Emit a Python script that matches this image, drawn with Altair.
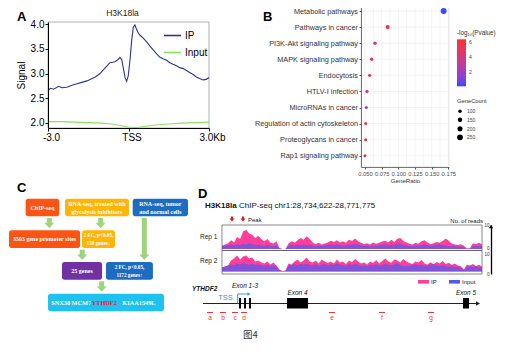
import json
import altair as alt
import numpy as np
import pandas as pd

W, H = 506, 343
SANS = "Liberation Sans"
SERIF = "Liberation Serif"
CJK = "Noto Sans CJK SC"

# ================= Panel A : H3K18la signal around TSS =================
a_pos = [-3.0, -2.91, -2.79, -2.6, -2.48, -2.3, -2.11, -1.92, -1.74, -1.55, -1.43, -1.24, -1.06,
         -0.93, -0.81, -0.69, -0.5, -0.38, -0.32, -0.25, -0.19, -0.13, -0.07, -0.01, 0.06, 0.12,
         0.18, 0.24, 0.3, 0.37, 0.43, 0.55, 0.67, 0.8, 0.92, 1.05, 1.17, 1.29, 1.42, 1.54, 1.66,
         1.79, 1.91, 2.04, 2.16, 2.28, 2.41, 2.53, 2.65, 2.78, 2.9, 3.0]
a_ip = [2.65, 2.70, 2.68, 2.74, 2.71, 2.72, 2.76, 2.79, 2.82, 2.85, 2.88, 2.93, 3.00, 3.08, 3.15,
        3.22, 3.24, 3.29, 3.33, 3.28, 3.10, 2.92, 2.84, 2.95, 3.30, 3.68, 3.95, 3.99, 3.90, 3.82,
        3.78, 3.72, 3.65, 3.56, 3.48, 3.40, 3.33, 3.30, 3.27, 3.22, 3.19, 3.16, 3.12, 3.10, 3.06,
        3.02, 2.98, 2.93, 2.90, 2.87, 2.88, 2.92]
a_input_pos = [-3.0, -2.5, -2.0, -1.5, -1.0, -0.6, -0.3, 0.0, 0.3, 0.6, 1.0, 1.5, 2.0, 2.5, 3.0]
a_input = [2.02, 2.02, 2.01, 2.00, 1.99, 1.97, 1.94, 1.91, 1.90, 1.92, 1.95, 1.97, 1.99, 2.00, 2.01]
a_tracks = ["IP", "Input"]
a_ticks = [-3, 0, 3]
a_tick_text = ["-3.0", "TSS", "3.0Kb"]
a_y_ticks = [2.0, 2.5, 3.0, 3.5, 4.0]
A_XDOM = [-3, 3]
A_YDOM = [1.89, 4.05]

# ================= Panel B : KEGG enrichment =================
b_terms = ["Metabolic pathways", "Pathways in cancer", "PI3K-Akt signaling pathway",
           "MAPK signaling pathway", "Endocytosis", "HTLV-I infection", "MicroRNAs in cancer",
           "Regulation of actin cytoskeleton", "Proteoglycans in cancer", "Rap1 signaling pathway"]
b_ratio = [0.168, 0.084, 0.065, 0.060, 0.057, 0.053, 0.052, 0.051, 0.051, 0.050]
b_count = [268, 134, 104, 96, 91, 85, 83, 81, 81, 80]
b_logp = [0.1, 6.3, 3.1, 5.5, 5.1, 3.7, 2.7, 5.9, 5.9, 4.8]
b_x_ticks = [0.05, 0.075, 0.1, 0.125, 0.15, 0.175]
b_p_ticks = [2, 4, 6]
b_n_ticks = [100, 150, 200, 250]
B_XDOM = [0.044, 0.176]
B_YDOM = [0.5, 10.7]

# ================= Panel C : screening flow chart =================
c_text = ["ChIP-seq", "RNA-seq, treated with\nglycolysis inhibitors", "RNA-seq, tumor\nand normal cells",
          "3505 gene promoter sites", "2 FC, p<0.05,\n150 genes\u2193", "25 genes",
          "2 FC, p<0.05,\n1172 genes\u2191", ""]
c_kind = ["chip", "glyco", "tumor", "chip", "glyco", "merge", "tumor", "final"]
c_genes = ["SNX30", "MCM7", "YTHDF2", "KIAA1549L"]
c_highlight = "YTHDF2"
# flow-chart layout (columns in 0-100 units, rows 0-3)
c_x0 = [9.3, 31.3, 69.1, 0.0, 40.8, 29.6, 54.2, 21.8]
c_x1 = [28.1, 67.0, 100.0, 39.7, 59.2, 52.0, 80.4, 86.6]
c_row = [0, 0, 0, 1, 1, 2, 2, 3]
c_gene_x = [28.9, 40.4, 53.2, 72.6]
c_arrow_x = [22.5, 51.2, 75.6, 40.9, 51.8]
c_arrow_from = [0, 0, 0, 1, 2]
c_arrow_to = [1, 1, 2, 2, 3]
c_kinds = ["chip", "glyco", "tumor", "merge", "final"]
c_colors = ["#fd5414", "#ffb505", "#1c6cc0", "#7131a1", "#1ec2ef"]

# ================= Panel D : ChIP-seq tracks at YTHDF2 =================
D_START, D_END = 28734622, 28771775
rep1_ip = [1.5, 2.0, 2.5, 4.0, 3.0, 5.5, 4.5, 8.0, 8.7, 7.0,
           6.5, 5.0, 6.0, 4.5, 3.5, 4.5, 3.0, 2.5, 3.5, 0.5,
           0.0, 0.0, 2.5, 3.5, 2.8, 4.0, 5.0, 4.2, 5.8, 4.5,
           3.0, 2.2, 2.8, 2.0, 2.5, 3.0, 3.8, 3.2, 4.0, 3.0,
           3.5, 2.8, 4.2, 3.6, 4.8, 3.5, 2.8, 2.2, 2.6, 2.0,
           3.0, 2.4, 2.8, 3.4, 3.8, 3.0, 4.2, 3.2, 4.6, 5.0,
           3.6, 3.0, 2.4, 2.0, 2.8, 2.4, 3.5, 4.0, 3.0, 2.2,
           2.6, 3.2, 2.8, 3.6, 4.8, 3.8, 2.5, 2.0, 1.8, 2.2,
           1.5, 0.2, 0.3, 2.6, 2.2, 2.8, 2.0]
rep1_input = [1.2, 1.5, 1.8, 2.0, 1.6, 2.2, 1.8, 2.4, 2.0, 2.6,
              2.2, 1.8, 2.0, 1.6, 1.4, 1.8, 1.5, 1.2, 1.6, 0.3,
              0.0, 0.0, 1.4, 1.8, 1.6, 2.0, 1.8, 2.2, 1.6, 1.9,
              1.5, 1.3, 1.7, 1.4, 1.6, 1.8, 2.0, 1.6, 2.2, 1.8,
              1.5, 1.7, 2.0, 1.8, 2.4, 1.9, 1.6, 1.4, 1.5, 1.2,
              1.6, 1.4, 1.7, 1.9, 2.0, 1.7, 2.1, 1.8, 2.2, 2.4,
              1.9, 1.6, 1.4, 1.3, 1.6, 1.4, 1.8, 2.0, 1.7, 1.5,
              1.6, 1.9, 2.2, 1.8, 1.5, 1.3, 1.2, 1.4, 1.1, 1.0,
              0.8, 0.1, 0.2, 1.2, 1.5, 1.3, 1.2]
rep2_ip = [2.0, 2.5, 3.0, 5.5, 6.5, 8.0, 6.0, 7.5, 8.0, 6.5,
           7.0, 5.0, 5.5, 4.5, 4.0, 5.0, 3.5, 4.5, 3.0, 1.0,
           0.2, 0.5, 4.0, 3.5, 5.0, 6.0, 4.5, 5.5, 7.0, 5.0,
           4.5, 5.5, 4.0, 6.0, 5.0, 4.2, 5.0, 4.0, 6.0, 4.5,
           5.0, 3.8, 5.5, 4.6, 6.2, 5.0, 4.0, 4.5, 3.5, 5.0,
           4.2, 5.8, 4.0, 5.2, 6.5, 5.0, 4.4, 6.0, 5.5, 4.5,
           6.2, 5.0, 4.2, 3.8, 5.0, 4.5, 5.8, 4.0, 3.5, 4.6,
           3.6, 4.8, 4.0, 5.2, 3.8, 4.4, 3.2, 4.0, 3.0, 2.6,
           1.0, 3.4, 3.0, 3.8, 2.8, 3.4, 2.5]
rep2_input = [2.0, 2.5, 3.0, 3.5, 3.0, 4.0, 3.5, 4.2, 3.8, 3.4,
              4.0, 3.2, 3.6, 3.0, 2.8, 3.4, 2.6, 3.0, 2.4, 0.5,
              0.2, 0.3, 2.8, 3.2, 3.6, 3.0, 3.8, 3.4, 4.0, 3.2,
              3.0, 3.6, 2.8, 3.4, 3.8, 3.0, 3.6, 3.2, 4.0, 3.4,
              3.0, 2.8, 3.6, 3.2, 3.8, 3.4, 2.8, 3.0, 2.6, 3.4,
              3.0, 3.6, 2.8, 3.2, 3.8, 3.4, 3.0, 3.6, 4.0, 3.2,
              2.8, 3.0, 2.6, 3.2, 3.6, 3.0, 3.4, 2.8, 3.0, 3.4,
              3.8, 3.0, 2.6, 3.2, 2.8, 2.4, 2.8, 2.2, 2.4, 2.0,
              0.6, 2.4, 2.8, 2.2, 2.6, 2.0, 1.8]
d_series = ["IP", "Input"]
d_read_ticks = [0, 10]
peaks = [28736051, 28737623]
exon_start = [28737054, 28737769, 28738483, 28743911, 28769061]
exon_end = [28737334, 28738049, 28738763, 28746911, 28769918]
exon_group = [0, 0, 0, 1, 2]
exon_names = ["Exon 1-3", "Exon 4", "Exon 5"]
gene_span = [28731907, 28771204]
tss = 28736870
tss_arrow_end = 28738480
primers = ["a", "b", "c", "d", "e", "f", "g"]
primer_pos = [28732907, 28734765, 28736480, 28737766, 28750341, 28757486, 28764488]

PINK, BLUE = "#ff3d9a", "#4f5bf0"
GREEN = "#9fd47f"
RED = "#ee3338"


def note(txt, x, y, **mark):
    return alt.Chart(pd.DataFrame({"t": [txt]})).mark_text(**mark).encode(
        x=alt.value(x), y=alt.value(y), text="t:N")


one = pd.DataFrame({"k": [0]})
layers = []

# ---------------- A ----------------
A_X = alt.Scale(domain=A_XDOM, range=[40, 201], nice=False, zero=False)
A_Y = alt.Scale(domain=A_YDOM, range=[120, 14], nice=False, zero=False)
a_df = pd.concat([
    pd.DataFrame({"pos": a_pos, "signal": a_ip, "track": a_tracks[0]}),
    pd.DataFrame({"pos": a_input_pos, "signal": a_input, "track": a_tracks[1]}),
])
a_label_expr = "".join(f"datum.value == {v} ? '{t}' : " for v, t in zip(a_ticks, a_tick_text)) + "''"

layers.append(alt.Chart(one).mark_rect(fillOpacity=0, stroke="#9c9c9c", strokeWidth=0.8).encode(
    x=alt.XDatum(A_XDOM[0], scale=A_X, axis=None), x2=alt.X2Datum(A_XDOM[1]),
    y=alt.YDatum(A_YDOM[0], scale=A_Y, axis=None), y2=alt.Y2Datum(A_YDOM[1])))
layers.append(alt.Chart(a_df).mark_line(strokeWidth=1.1).encode(
    x=alt.X("pos:Q", scale=A_X, axis=alt.Axis(
        orient="bottom", offset=120 - H, values=a_ticks, labelExpr=a_label_expr, title=None,
        grid=False, tickSize=3, tickColor="#000", domainColor="#000", labelColor="#000",
        labelFontSize=10, labelPadding=1, labelFlush=False, labelOffset=3, zindex=2)),
    y=alt.Y("signal:Q", scale=A_Y, axis=alt.Axis(
        orient="left", offset=-40, values=a_y_ticks, format=".1f", title="Signal",
        titleFontSize=10, titleFontWeight="normal", titleColor="#000", titlePadding=4,
        grid=False, tickSize=3, tickColor="#000", domainColor="#000", labelColor="#000",
        labelFontSize=10, labelPadding=1, zindex=2)),
    color=alt.Color("track:N", scale=alt.Scale(domain=a_tracks, range=["#2d3494", "#8be05d"]),
                    legend=alt.Legend(orient="none", legendX=155, legendY=18, title=None,
                                      symbolType="stroke", symbolSize=289, symbolStrokeWidth=1.6,
                                      labelFontSize=10, labelOffset=3, rowPadding=2,
                                      labelColor="#000")),
    order="pos:Q"))
layers.append(note("H3K18la", 114.5, 5, fontSize=8.5, color="#222"))
layers.append(note("A", 9, 12.5, fontSize=13, fontWeight="bold", align="left",
                   baseline="alphabetic", color="#000"))

# ---------------- B ----------------
B_X = alt.Scale(domain=B_XDOM, range=[353, 441], nice=False, zero=False)
B_Y = alt.Scale(domain=B_YDOM, range=[-5, 159], nice=False, zero=False)
b_df = pd.DataFrame({"term": b_terms, "rank": list(range(1, len(b_terms) + 1)),
                     "ratio": b_ratio, "count": b_count, "logp": b_logp})
b_grid = sorted(b_x_ticks + [(a + b) / 2 for a, b in zip(b_x_ticks[:-1], b_x_ticks[1:])])
b_label_expr = json.dumps(b_terms) + "[datum.value - 1]"

layers.append(alt.Chart(pd.DataFrame({"g": b_grid})).mark_rule(color="#ebebeb", strokeWidth=0.6).encode(
    x=alt.X("g:Q", scale=B_X, axis=None),
    y=alt.YDatum(B_YDOM[0], scale=B_Y, axis=None), y2=alt.Y2Datum(B_YDOM[1])))
layers.append(alt.Chart(b_df).mark_rule(color="#ebebeb", strokeWidth=0.6).encode(
    y=alt.Y("rank:Q", scale=B_Y, axis=None),
    x=alt.XDatum(B_XDOM[0], scale=B_X, axis=None), x2=alt.X2Datum(B_XDOM[1])))
layers.append(alt.Chart(one).mark_rect(fillOpacity=0, stroke="#dcdcdc", strokeWidth=0.8).encode(
    x=alt.XDatum(B_XDOM[0], scale=B_X, axis=None), x2=alt.X2Datum(B_XDOM[1]),
    y=alt.YDatum(B_YDOM[0], scale=B_Y, axis=None), y2=alt.Y2Datum(B_YDOM[1])))
layers.append(alt.Chart(b_df).mark_circle(opacity=1).encode(
    x=alt.X("ratio:Q", scale=B_X, axis=alt.Axis(
        orient="bottom", offset=159 - H, values=b_x_ticks, format=".3f", title="GeneRatio",
        titleFontSize=6.2, titleFontWeight="normal", titleColor="#333", titlePadding=2,
        labelFontSize=5.8, labelColor="#4d4d4d", tickSize=2, tickColor="#555",
        domainColor="#555", domainWidth=0.8, labelPadding=1, grid=False, labelFlush=False,
        zindex=2)),
    y=alt.Y("rank:Q", scale=B_Y, axis=alt.Axis(
        orient="left", offset=-353, values=list(range(1, len(b_terms) + 1)),
        labelExpr=b_label_expr, labelFontSize=7.3, labelColor="#333", tickSize=2,
        tickColor="#555", domainColor="#555", domainWidth=0.8, labelPadding=1.5,
        title=None, grid=False, zindex=2)),
    color=alt.Color("logp:Q", scale=alt.Scale(domain=[0, 6.4], range=["#3347ff", "#ff3030"],
                                              interpolate="lab"),
                    legend=alt.Legend(orient="none", legendX=449, legendY=22,
                                      title="-log\u2081\u2080(Pvalue)", titleFontSize=6.3,
                                      titleFontWeight="normal", titleColor="#333", titlePadding=3,
                                      gradientLength=47, gradientThickness=9, values=b_p_ticks,
                                      labelFontSize=5, labelColor="#444", direction="vertical",
                                      gradientStrokeWidth=0, labelOffset=3)),
    size=alt.Size("count:Q", scale=alt.Scale(domain=[50, 270], range=[5, 36]),
                  legend=alt.Legend(orient="none", legendX=449, legendY=90, title="GeneCount",
                                    titleFontSize=5.8, titleFontWeight="normal", titleColor="#333",
                                    values=b_n_ticks, symbolFillColor="#000",
                                    symbolStrokeColor="#000", symbolStrokeWidth=0,
                                    labelFontSize=5, labelColor="#444", rowPadding=2.5,
                                    labelOffset=4, symbolType="circle"))))
layers.append(note("B", 255, 12.5, fontSize=13, fontWeight="bold", align="left",
                   baseline="alphabetic", color="#000"))

# ---------------- C ----------------
C_X = alt.Scale(domain=[0, 100], range=[1, 180], nice=False, zero=False)
C_Y = alt.Scale(domain=[0, 3], range=[199.5, 294.5], nice=False, zero=False)
c_df = pd.DataFrame({"label": c_text, "kind": c_kind, "x0": c_x0, "x1": c_x1, "row": c_row})
c_gene_df = pd.DataFrame({"gene": c_genes, "gx": c_gene_x})
c_arr = pd.DataFrame({"ax": c_arrow_x, "r0": c_arrow_from, "r1": c_arrow_to})

layers.append(alt.Chart(c_arr).transform_calculate(ya="datum.r0 + 0.33", yb="datum.r1 - 0.44")
              .mark_rule(color=GREEN, strokeWidth=5).encode(
    x=alt.X("ax:Q", scale=C_X, axis=None), y=alt.Y("ya:Q", scale=C_Y, axis=None), y2="yb:Q"))
layers.append(alt.Chart(c_arr).transform_calculate(yh="datum.r1 - 0.43")
              .mark_point(shape="M-1,-0.55L1,-0.55L0,0.55Z", filled=True, size=100, color=GREEN,
                          opacity=1).encode(
    x=alt.X("ax:Q", scale=C_X, axis=None), y=alt.Y("yh:Q", scale=C_Y, axis=None)))
layers.append(alt.Chart(c_df).transform_calculate(y0="datum.row - 0.28", y1="datum.row + 0.28")
              .mark_rect(cornerRadius=2.5).encode(
    x=alt.X("x0:Q", scale=C_X, axis=None), x2="x1:Q",
    y=alt.Y("y0:Q", scale=C_Y, axis=None), y2="y1:Q",
    color=alt.Color("kind:N", scale=alt.Scale(domain=c_kinds, range=c_colors), legend=None)))
c_groups = (
    ("indexof(datum.label, '\\n') < 0", 6.0, 0),
    ("indexof(datum.label, '\\n') >= 0 && indexof(datum.label, 'FC') < 0", 6.0, -4),
    ("indexof(datum.label, 'FC') >= 0", 5.2, -4),
)
for flt, fs, dy in c_groups:
    layers.append(alt.Chart(c_df).transform_filter(flt)
                  .transform_calculate(xc="(datum.x0 + datum.x1) / 2")
                  .mark_text(font=SERIF, fontWeight="bold", fontSize=fs, color="white",
                             lineBreak="\n", lineHeight=8, dy=dy).encode(
        x=alt.X("xc:Q", scale=C_X, axis=None), y=alt.Y("row:Q", scale=C_Y, axis=None),
        text="label:N"))
layers.append(alt.Chart(c_gene_df).mark_text(font=SERIF, fontWeight="bold", fontSize=6.3).encode(
    x=alt.X("gx:Q", scale=C_X, axis=None), y=alt.YDatum(3, scale=C_Y, axis=None), text="gene:N",
    color=alt.condition(alt.datum.gene == c_highlight, alt.value("#e3262c"), alt.value("white"))))
layers.append(note("C", 9, 184, fontSize=13, fontWeight="bold", align="left",
                   baseline="alphabetic", color="#000"))

# ---------------- D ----------------
D_X = alt.Scale(domain=[D_START, D_END], range=[214, 474], nice=False, zero=False)
R1_DOM = [-0.68, 10.9]
R2_DOM = [-1.25, 10.5]
R1_Y = alt.Scale(domain=R1_DOM, range=[242.5, 217], nice=False, zero=False)
R2_Y = alt.Scale(domain=R2_DOM, range=[266, 242.5], nice=False, zero=False)
bins = np.linspace(D_START, D_END, len(rep1_ip))


def rep_axis(baseline):
    return alt.Axis(orient="right", offset=-23, values=d_read_ticks, ticks=False, tickSize=0,
                    labelAlign="right", labelPadding=-2, labelFontSize=4.5, labelColor="#333",
                    labelBaseline=baseline, domain=True, domainColor="#000", domainWidth=1.3,
                    grid=False, title=None)


r1_ip_df = pd.DataFrame({"pos": bins, "reads": rep1_ip, "series": d_series[0]})
r1_in_df = pd.DataFrame({"pos": bins, "reads": rep1_input})
r2_ip_df = pd.DataFrame({"pos": bins, "reads": rep2_ip})
r2_in_df = pd.DataFrame({"pos": bins, "reads": rep2_input})

layers.append(alt.Chart(r1_ip_df).mark_area(opacity=1).encode(
    x=alt.X("pos:Q", scale=D_X, axis=None),
    y=alt.Y("reads:Q", scale=R1_Y, axis=rep_axis("alphabetic")),
    color=alt.Color("series:N", scale=alt.Scale(domain=d_series, range=[PINK, BLUE]),
                    legend=alt.Legend(orient="none", legendX=410, legendY=268, title=None,
                                      direction="horizontal", symbolType="M-1,-0.33H1V0.33H-1Z",
                                      symbolSize=121, labelFontSize=6, labelOffset=2,
                                      columnPadding=12, labelColor="#222", symbolStrokeWidth=0))))
layers.append(alt.Chart(r1_in_df).mark_area(opacity=0.72, color=BLUE).encode(
    x=alt.X("pos:Q", scale=D_X, axis=None), y=alt.Y("reads:Q", scale=R1_Y, axis=None)))
layers.append(alt.Chart(r2_ip_df).mark_area(opacity=1, color=PINK).encode(
    x=alt.X("pos:Q", scale=D_X, axis=None), y=alt.Y("reads:Q", scale=R2_Y, axis=rep_axis("top"))))
layers.append(alt.Chart(r2_in_df).mark_area(opacity=0.72, color=BLUE).encode(
    x=alt.X("pos:Q", scale=D_X, axis=None), y=alt.Y("reads:Q", scale=R2_Y, axis=None)))
for dom, sc in ((R1_DOM, R1_Y), (R2_DOM, R2_Y)):
    layers.append(alt.Chart(one).mark_rect(fillOpacity=0, stroke="#555", strokeWidth=0.7).encode(
        x=alt.XDatum(D_START, scale=D_X, axis=None), x2=alt.X2Datum(D_END),
        y=alt.YDatum(dom[0], scale=sc, axis=None), y2=alt.Y2Datum(dom[1])))
layers.append(alt.Chart(one).mark_point(shape="triangle-up", filled=True, size=18, color="#000",
                                        opacity=1).encode(x=alt.value(483), y=alt.value(218.5)))

# peaks
layers.append(alt.Chart(pd.DataFrame({"p": peaks})).mark_point(
    shape="M-0.4,-1H0.4V-0.2H1L0,1L-1,-0.2H-0.4Z", filled=True, size=26, color="#e8141e",
    opacity=1).encode(x=alt.X("p:Q", scale=D_X, axis=None), y=alt.value(211)))
layers.append(note("Peak", 240, 212, fontSize=6, align="left", color="#222"))
layers.append(note("No. of reads", 475, 213, fontSize=6, align="right", color="#222"))
layers.append(note("Rep 1", 192, 228.5, fontSize=6.5, align="left", color="#222"))
layers.append(note("Rep 2", 192, 253, fontSize=6.5, align="left", color="#222"))
layers.append(note("D", 190, 190, fontSize=13, fontWeight="bold", align="left",
                   baseline="alphabetic", color="#000"))
layers.append(note("H3K18la", 197, 197.5, fontSize=8, fontWeight="bold", align="left", color="#111"))
layers.append(note("ChIP-seq  chr1:28,734,622-28,771,775", 231, 197.5, fontSize=8, align="left",
                   color="#111"))

# gene model
layers.append(alt.Chart(pd.DataFrame({"s": [gene_span[0]], "e": [gene_span[1]]})).mark_rule(
    color="#222", strokeWidth=1.2).encode(
    x=alt.X("s:Q", scale=D_X, axis=None), x2="e:Q", y=alt.value(295.5)))
layers.append(alt.Chart(pd.DataFrame({"e": [gene_span[1]]})).mark_point(
    shape="triangle-right", filled=True, size=22, color="#222", opacity=1).encode(
    x=alt.X("e:Q", scale=D_X, axis=None), y=alt.value(295.5)))
ex_df = pd.DataFrame({"s": exon_start, "e": exon_end, "grp": exon_group})
layers.append(alt.Chart(ex_df).mark_rect(color="#000").encode(
    x=alt.X("s:Q", scale=D_X, axis=None), x2="e:Q", y=alt.value(290), y2=alt.value(300.5)))
ex_lab = ex_df.groupby("grp").agg(s=("s", "min"), e=("e", "max")).reset_index()
ex_lab["name"] = [exon_names[g] for g in ex_lab["grp"]]
ex_lab["c"] = (ex_lab["s"] + ex_lab["e"]) / 2
layers.append(alt.Chart(ex_lab.iloc[:1]).mark_text(fontSize=6.5, fontStyle="italic", color="#111").encode(
    x=alt.X("c:Q", scale=D_X, axis=None), y=alt.value(278), text="name:N"))
layers.append(alt.Chart(ex_lab.iloc[1:]).mark_text(fontSize=6.5, fontStyle="italic", color="#111").encode(
    x=alt.X("c:Q", scale=D_X, axis=None), y=alt.value(285), text="name:N"))
TSS_BLUE = "#4b8fd6"
layers.append(alt.Chart(pd.DataFrame({"t": [tss]})).mark_rule(color=TSS_BLUE, strokeWidth=1).encode(
    x=alt.X("t:Q", scale=D_X, axis=None), y=alt.value(286), y2=alt.value(295.5)))
layers.append(alt.Chart(pd.DataFrame({"t": [tss], "te": [tss_arrow_end]})).mark_rule(
    color=TSS_BLUE, strokeWidth=1).encode(
    x=alt.X("t:Q", scale=D_X, axis=None), x2="te:Q", y=alt.value(286)))
layers.append(alt.Chart(pd.DataFrame({"te": [tss_arrow_end]})).mark_point(
    shape="triangle-right", filled=True, size=12, color=TSS_BLUE, opacity=1).encode(
    x=alt.X("te:Q", scale=D_X, axis=None), y=alt.value(286)))
layers.append(alt.Chart(pd.DataFrame({"t": [tss], "lab": ["TSS"]})).mark_text(
    fontSize=7.5, color=TSS_BLUE, align="right", dx=-5).encode(
    x=alt.X("t:Q", scale=D_X, axis=None), y=alt.value(290), text="lab:N"))
layers.append(note("YTHDF2", 184, 281, fontSize=6.5, fontWeight="bold", fontStyle="italic",
                   align="left", color="#111"))
pr_df = pd.DataFrame({"p": primer_pos, "lab": primers})
layers.append(alt.Chart(pr_df).mark_point(shape="stroke", size=36, strokeWidth=1, color=RED,
                                          opacity=1).encode(
    x=alt.X("p:Q", scale=D_X, axis=None), y=alt.value(304.5)))
layers.append(alt.Chart(pr_df).mark_text(fontSize=6.5, color=RED).encode(
    x=alt.X("p:Q", scale=D_X, axis=None), y=alt.value(310), text="lab:N"))

# caption
layers.append(note("\u56fe4", 242.5, 327, fontSize=9.5, font=CJK, color="#333"))

chart = alt.layer(*layers).resolve_scale(
    x="independent", y="independent", color="independent", size="independent"
).properties(
    width=W, height=H, autosize=alt.AutoSizeParams(type="none"), padding=0, background="white"
).configure(font=SANS).configure_view(strokeWidth=0)

chart.save("out.html", embed_options={"renderer": "svg", "actions": False})
